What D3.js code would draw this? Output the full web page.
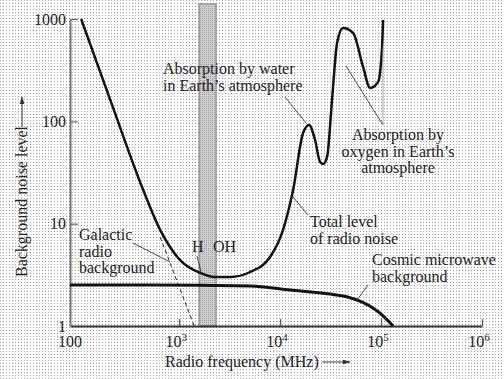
<!DOCTYPE html>
<html>
<head>
<meta charset="utf-8">
<script src="https://cdn.jsdelivr.net/npm/d3@7"></script>
<style>
  body { margin: 0; background: #fff; }
  svg text { font-family: "Liberation Serif", "DejaVu Serif", serif; fill: #222; }
</style>
</head>
<body>
<div id="chart"></div>
<script>
// Values (frequency in MHz, noise level relative)
const totalFreq = [107, 217, 441, 649, 1023, 1616, 2270, 3200, 5050, 7960, 10700, 13460,
                   16900, 19380, 22200, 24900, 26700, 29200, 32700, 36700, 42000, 52800,
                   66400, 77900, 93400, 102000, 104700];
const totalLevel = [1000, 144, 21.3, 8.7, 4.4, 3.3, 3.01, 3.01, 3.37, 4.72, 8.7, 21.3,
                    76.9, 92, 65.7, 40, 38.3, 44.9, 162, 583, 817, 730,
                    340, 212, 242, 498, 977];
const cmbFreq = [83, 517, 5050, 12560, 31260, 45700, 66800, 83900, 105400, 131500];
const cmbLevel = [2.52, 2.52, 2.46, 2.25, 2.05, 1.93, 1.69, 1.49, 1.25, 1.0];
const galacticFreq = [649, 1408];
const galacticLevel = [7.4, 1.0];
const waterHole = [1580, 2320];
const xTicks = [1e3, 1e4, 1e5, 1e6];
const xTickExp = ["3", "4", "5", "6"];
const yTicks = [1, 10, 100, 1000];

const W = 504, H = 379;
const svg = d3.select("#chart").append("svg")
    .attr("width", W).attr("height", H);

// halftone background
const defs = svg.append("defs");
const pat = defs.append("pattern").attr("id", "dots")
    .attr("width", 3).attr("height", 3).attr("patternUnits", "userSpaceOnUse");
pat.append("rect").attr("width", 3).attr("height", 3).attr("fill", "#fff");
pat.append("rect").attr("width", 1).attr("height", 1).attr("fill", "#9a9a9a");
const pat2 = defs.append("pattern").attr("id", "dots2")
    .attr("width", 2).attr("height", 2).attr("patternUnits", "userSpaceOnUse");
pat2.append("rect").attr("width", 2).attr("height", 2).attr("fill", "#d0d0d0");
pat2.append("rect").attr("width", 1).attr("height", 1).attr("fill", "#9c9c9c");
defs.append("marker").attr("id", "arr").attr("viewBox", "0 0 10 10")
    .attr("refX", 9).attr("refY", 5).attr("markerWidth", 8).attr("markerHeight", 8)
    .attr("orient", "auto")
  .append("path").attr("d", "M0,2 L10,5 L0,8 Z").attr("fill", "#333");

svg.append("rect").attr("width", W).attr("height", H).attr("fill", "url(#dots)");

const x = d3.scaleLog().domain([83, 1e6]).range([70, 482]);
const y = d3.scaleLog().domain([1, 1000]).range([326, 19]);

// water hole band
svg.append("rect")
    .attr("x", x(waterHole[0])).attr("width", x(waterHole[1]) - x(waterHole[0]))
    .attr("y", 4).attr("height", y(1) - 4)
    .attr("fill", "url(#dots2)").attr("stroke", "#959595").attr("stroke-width", 1.5);

// axes
const xAxis = svg.append("g").attr("transform", `translate(0,${y(1)})`)
    .call(d3.axisBottom(x).tickValues(xTicks).tickSize(-7).tickSizeOuter(0).tickFormat(""));
xAxis.select(".domain").attr("stroke", "#333").attr("stroke-width", 2);
xAxis.selectAll(".tick line").attr("stroke", "#555").attr("stroke-width", 1.2);

const yAxis = svg.append("g").attr("transform", `translate(${x(83)},0)`)
    .call(d3.axisLeft(y).tickValues(yTicks).tickSize(-8).tickSizeOuter(0).tickPadding(4)
        .tickFormat(d3.format("d")));
yAxis.select(".domain").attr("stroke", "#777").attr("stroke-width", 2);
yAxis.selectAll(".tick line").attr("stroke", "#666").attr("stroke-width", 1.2);
yAxis.selectAll(".tick text").attr("font-size", 16)
    .attr("font-family", "Liberation Serif, serif").attr("fill", "#222");
// the "1" sits at the corner; hide its inward tick
yAxis.selectAll(".tick").filter(d => d === 1).select("line").remove();

// x tick labels (powers of ten)
svg.append("text").attr("x", x(83)).attr("y", 347).attr("text-anchor", "middle")
    .attr("font-size", 16).text("100");
xTicks.forEach((v, i) => {
  const t = svg.append("text").attr("x", x(v) - 3).attr("y", 347)
      .attr("text-anchor", "middle").attr("font-size", 16);
  t.append("tspan").text("10");
  t.append("tspan").attr("dy", -6).attr("font-size", 11).text(xTickExp[i]);
});

const line = d3.line().x(d => x(d[0])).y(d => y(d[1]));

// galactic (dashed continuation)
svg.append("path")
    .datum(galacticFreq.map((f, i) => [f, galacticLevel[i]]))
    .attr("d", line).attr("fill", "none").attr("stroke", "#222")
    .attr("stroke-width", 1).attr("stroke-dasharray", "4,3");

// cosmic microwave background
svg.append("path")
    .datum(cmbFreq.map((f, i) => [f, cmbLevel[i]]))
    .attr("d", line.curve(d3.curveMonotoneX)).attr("fill", "none")
    .attr("stroke", "#111").attr("stroke-width", 3);

// total noise
svg.append("path")
    .datum(totalFreq.map((f, i) => [f, totalLevel[i]]))
    .attr("d", line.curve(d3.curveMonotoneX)).attr("fill", "none")
    .attr("stroke", "#111").attr("stroke-width", 2.5);

// annotations
function label(lines, px, py, anchor) {
  const t = svg.append("text").attr("x", px).attr("y", py)
      .attr("font-size", 16).attr("text-anchor", anchor || "start");
  lines.forEach((s, i) => t.append("tspan").attr("x", px).attr("dy", i ? 16.5 : 0).text(s));
}
function leader(x1, y1, x2, y2, col) {
  svg.append("line").attr("x1", x1).attr("y1", y1).attr("x2", x2).attr("y2", y2)
      .attr("stroke", col || "#333").attr("stroke-width", 0.9);
}

label(["Absorption by water", "in Earth\u2019s atmosphere"], 163, 74);
leader(285, 97, 306, 123);

label(["Absorption by", "oxygen in Earth\u2019s", "atmosphere"], 398, 140, "middle");
leader(346, 66, 383, 125);
leader(383, 47, 383, 125, "#999");

label(["Total level", "of radio noise"], 310, 227);
leader(293, 197, 308, 215);

label(["Galactic", "radio", "background"], 79, 240);
leader(133, 243, 170, 262);

label(["Cosmic microwave", "background"], 372, 265);
leader(368, 285, 357, 300);

svg.append("text").attr("x", 192).attr("y", 252).attr("font-size", 16).text("H");
svg.append("text").attr("x", 213).attr("y", 252).attr("font-size", 16).text("OH");
leader(197, 256, 201, 272);

// axis titles
svg.append("text").attr("x", 165).attr("y", 367).attr("font-size", 16)
    .text("Radio frequency (MHz)");
svg.append("line").attr("x1", 322).attr("y1", 362).attr("x2", 350).attr("y2", 362)
    .attr("stroke", "#333").attr("stroke-width", 1).attr("marker-end", "url(#arr)");

svg.append("text").attr("transform", "translate(27,277) rotate(-90)")
    .attr("font-size", 16).text("Background noise level");
svg.append("line").attr("x1", 22).attr("y1", 127).attr("x2", 22).attr("y2", 97)
    .attr("stroke", "#333").attr("stroke-width", 1).attr("marker-end", "url(#arr)");
</script>
</body>
</html>
